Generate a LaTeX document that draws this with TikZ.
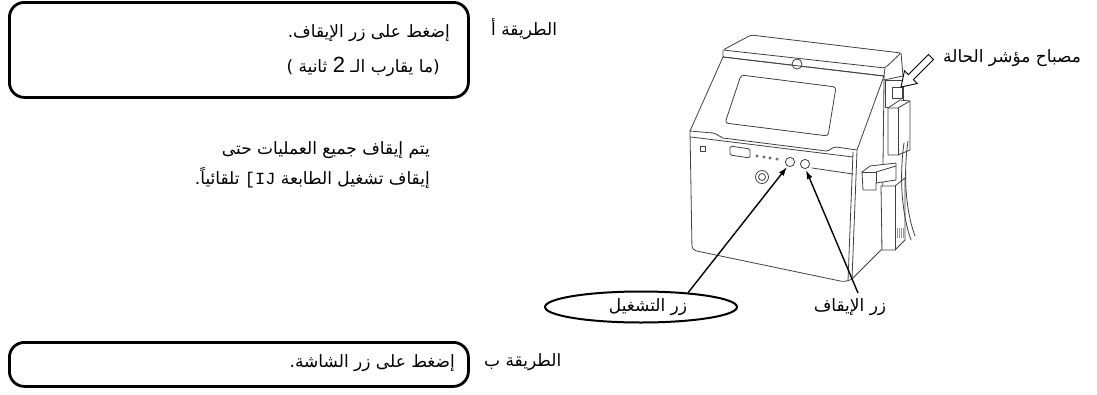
\documentclass[tikz,border=0pt]{standalone}
\usepackage{fontspec}
\setmainfont{Liberation Sans}
\newfontfamily\arabicfont[Script=Arabic]{DejaVu Sans}
\newfontfamily\latinfont{Liberation Sans}
\newfontfamily\monofont{Liberation Mono}
\TeXXeTstate=1
\usetikzlibrary{shapes.geometric,arrows.meta}
\begin{document}
\begin{tikzpicture}[x=1pt,y=-1pt,
  frame/.style={draw, line width=2.8pt, rounded corners=15pt, inner sep=0pt},
  ar/.style={font=\arabicfont\fontsize{17}{20}\selectfont, inner sep=0pt, anchor=east},
  dev/.style={line width=0.8pt, draw=black!75, line join=round, line cap=round},
  callout/.style={line width=1.4pt, -{Latex[length=9pt,width=6pt]}}
]
\useasboundingbox (0,0) rectangle (1097,394);

% ---------- method A ----------
\node[frame, minimum width=459pt, minimum height=95pt, anchor=north west] (boxA) at (8,1) {};
\node[ar] (a1) at (450,33) {.\beginR إضغط على زر الإيقاف\endR};
\node[ar] (a2) at (440,67) {)\ \beginR ما يقارب الـ {\latinfont\fontsize{22}{22}\selectfont 2} ثانية\endR(};
\node[ar, anchor=west] (labA) at (491,29) {\beginR الطريقة أ\endR};

% ---------- note ----------
\node[ar] (m1) at (430,150) {\beginR يتم إيقاف جميع العمليات حتى\endR};
\node[ar] (m2) at (430,178) {.\beginR تلقائياً\endR\ {\monofont\relax[IJ} \beginR إيقاف تشغيل الطابعة\endR};

% ---------- method B ----------
\node[frame, minimum width=459pt, minimum height=44pt, anchor=north west] (boxB) at (8,341) {};
\node[ar] (b1) at (455,363) {.\beginR إضغط على زر الشاشة\endR};
\node[ar, anchor=west] (labB) at (484,362) {\beginR الطريقة ب\endR};

% ---------- printer body ----------
\draw[dev, rounded corners=2pt] (723,50) -- (751,35) -- (901,53) -- (885,68) -- cycle;
\draw[dev] (723,50) -- (723,57) -- (884,76) -- (885,68);
\draw[dev] (901,53) -- (903,76) -- (884,80) -- (884,76);
\draw[dev, fill=white] (797,64) circle (5pt);
\draw[dev] (723,57) -- (884,76);
\draw[dev] (723,57) -- (690,131);
\draw[dev] (884,76) -- (857,150);
\draw[dev, rounded corners=3pt] (741,75) -- (836,87) -- (828,136) -- (725,123) -- cycle;
\draw[dev] (690,131) -- (713,133) .. controls (718,134) and (719,137) .. (723,138)
  -- (826,151) .. controls (830,151) and (832,147) .. (836,147) -- (857,150);
\draw[dev] (691,137) -- (853,157);
\draw[dev, rounded corners=4pt] (690,131) -- (692,250) -- (845,282) -- (852,279);
\draw[dev] (853,152) -- (848,281);
\draw[dev] (857,151) -- (852,279);
\draw[dev] (852,279) -- (881,250);
\draw[dev] (884,80) -- (882,250);
\draw[dev] (812,168) -- (853,174);
\draw[dev] (700,146) rectangle (705,151);
\draw[dev, rounded corners=1.5pt] (730,146) -- (750,149) -- (750,158) -- (730,155) -- cycle;
\foreach \px/\py in {757/156,764/157,770/158,777/159} \draw[dev, line width=0.6pt] (\px,\py) circle (1.3pt);
\draw[dev] (790,162) circle (4.6pt);
\draw[dev] (805,164) circle (4.6pt);
\draw[dev] (762,177) circle (6.5pt);
\draw[dev] (762,177) circle (3.5pt);
\coordinate (btnStart) at (787,167);
\coordinate (btnStop) at (806,170);

\draw[dev, fill=white] (885,80) rectangle (903,107);
\draw[dev, fill=white] (892,87) rectangle (902,98);
\draw[dev, fill=white] (888,108) -- (900,100) -- (910,101) -- (910,150) -- (898,155) -- (888,155) -- cycle;
\draw[dev] (888,108) -- (898,108) -- (910,101);
\draw[dev] (898,108) -- (898,155);
\draw[dev, fill=white] (881,186) -- (895,186) -- (905,178) -- (905,240) -- (895,250) -- (882,250) -- cycle;
\draw[dev] (895,186) -- (895,250);
\foreach \hx in {897,899,901,903} \draw[black!40, line width=0.5pt] (\hx,228) -- (\hx,238);
\draw[dev, fill=white] (862,172) -- (870,166) -- (896,163) -- (896,180) -- (876,183) -- (876,190) -- (863,190) -- cycle;
\draw[dev] (862,172) -- (876,172) -- (876,183);
\draw[dev] (876,172) -- (896,166);
\draw[dev] (904,143) .. controls (899,178) and (902,215) .. (911,240);
\draw[dev] (908,141) .. controls (903,176) and (906,212) .. (915,236);

\draw[line width=0.9pt, fill=white, line join=miter]
  (928.5,54.5) -- (908.4,74.6) -- (904.5,70.7) -- (901,87) -- (917.3,83.5) -- (913.4,79.6) -- (933.5,59.5) -- cycle;
\node[ar, anchor=west] (lamplbl) at (943,58) {\beginR مصباح مؤشر الحالة\endR};

% ---------- callouts ----------
\node[draw, ellipse, line width=2pt, minimum width=192pt, minimum height=31pt, inner sep=0pt] (startlbl) at (641,307) {};
\node[ar, anchor=center] (starttxt) at (648,307) {\beginR زر التشغيل\endR};
\node[ar, anchor=center] (stoplbl) at (850,307) {\beginR زر الإيقاف\endR};
\coordinate (stopTail) at (858,293);
\draw[callout] (startlbl.17) -- (btnStart);
\draw[callout] (stopTail) -- (btnStop);
\end{tikzpicture}
\end{document}
